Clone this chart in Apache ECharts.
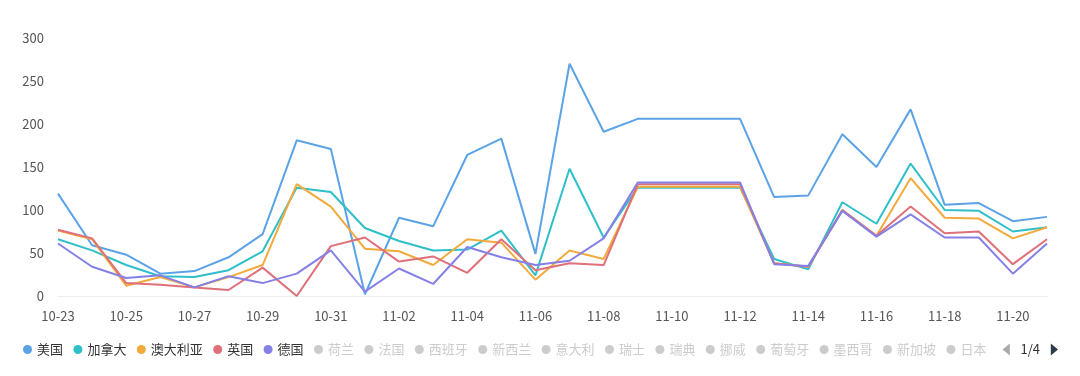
<!DOCTYPE html>
<html>
<head>
<meta charset="utf-8">
<script src="https://cdn.jsdelivr.net/npm/echarts@6/dist/echarts.min.js"></script>
<style>
html,body{margin:0;padding:0;background:#fff;}
#c{width:1080px;height:376px;}
</style>
</head>
<body>
<div id="c"></div>
<script>
const dates = ['10-23','10-24','10-25','10-26','10-27','10-28','10-29','10-30','10-31','11-01',
  '11-02','11-03','11-04','11-05','11-06','11-07','11-08','11-09','11-10','11-11',
  '11-12','11-13','11-14','11-15','11-16','11-17','11-18','11-19','11-20','11-21'];

const usa       = [119,59,48,26,29,45,72,181,171,2, 91,81,164,183,49,270,191,206,206,206, 206,115,117,188,150,217,106,108,87,92];
const canada    = [66,53,36,23,22,30,52,126,121,79, 64,53,54,76,24,148,68,126,126,126, 126,43,31,109,84,154,100,99,75,80];
const australia = [76,66,12,22,10,22,36,130,104,55, 52,36,66,62,19,53,43,127,127,127, 127,38,34,100,70,137,91,90,67,80];
const uk        = [77,67,15,13,10,7,33,0,58,68, 40,46,27,66,30,38,36,130,130,130, 130,38,34,100,70,104,73,75,37,66];
const germany   = [61,34,21,24,10,23,15,26,53,5, 32,14,57,45,36,41,67,132,132,132, 132,37,35,99,69,95,68,68,26,61];

const shown = ['美国','加拿大','澳大利亚','英国','德国'];
const hiddenNames = ['荷兰','法国','西班牙','新西兰','意大利','瑞士','瑞典','挪威','葡萄牙','墨西哥','新加坡','日本',
  '韩国','巴西','丹麦','比利时','奥地利','爱尔兰','芬兰','波兰','以色列','阿联酋','沙特阿拉伯','印度',
  '俄罗斯','南非','阿根廷','智利','哥伦比亚','秘鲁','马来西亚','泰国','菲律宾','印度尼西亚','越南','土耳其',
  '希腊','捷克','匈牙利','罗马尼亚','乌克兰','卢森堡','冰岛','卡塔尔','科威特'];
const yTicks = [0,50,100,150,200,250,300];

const colors = ['#5ba3e6','#2fbfc9','#f3aa3c','#df6f78','#8580e6'];
const values = [usa, canada, australia, uk, germany];

const series = shown.map((n,i)=>({
  name:n, type:'line', data:values[i], showSymbol:false, symbol:'circle',
  lineStyle:{width:2, color:colors[i]}, itemStyle:{color:colors[i]}
})).concat(hiddenNames.map(n=>({name:n, type:'line', data:[], showSymbol:false, symbol:'circle'})));

const selected = {};
hiddenNames.forEach(n=>selected[n]=false);

const chart = echarts.init(document.getElementById('c'));
chart.setOption({
  animation:false,
  textStyle:{fontFamily:'"Noto Sans CJK SC","Noto Sans",sans-serif'},
  grid:{left:58, right:33, top:38, bottom:80},
  legend:{
    type:'scroll', bottom:15, left:18, width:1035,
    icon:'circle', itemWidth:9, itemHeight:9, itemGap:10.4,
    data:shown.concat(hiddenNames), selected:selected,
    textStyle:{fontSize:13, color:'#333'},
    inactiveColor:'#ccc',
    pageIconColor:'#2f3a4a', pageIconInactiveColor:'#aaa', pageIconSize:12,
    pageTextStyle:{color:'#333', fontSize:13}
  },
  xAxis:{
    type:'category', data:dates, boundaryGap:false,
    axisLine:{lineStyle:{color:'#eeeeee'}}, axisTick:{show:false},
    axisLabel:{interval:1, color:'#555', fontSize:13, margin:14}
  },
  yAxis:{
    type:'value', min:yTicks[0], max:yTicks[yTicks.length-1], interval:50,
    axisLine:{show:false}, axisTick:{show:false}, splitLine:{show:false},
    axisLabel:{color:'#555', fontSize:13, margin:14}
  },
  series:series
});
</script>
</body>
</html>
